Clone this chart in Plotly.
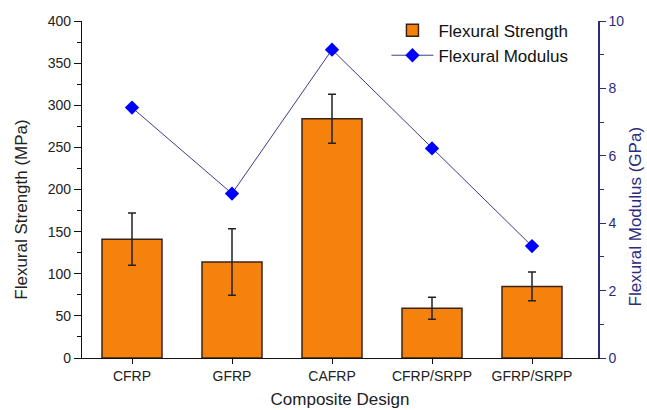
import plotly.graph_objects as go

categories = ["CFRP", "GFRP", "CAFRP", "CFRP/SRPP", "GFRP/SRPP"]
strength = [141, 114, 284, 59, 85]
strength_err = [31, 39.5, 29, 13, 17]
modulus = [7.43, 4.88, 9.15, 6.22, 3.32]

FONT = "Liberation Sans, Arial, sans-serif"
NAVY = "#2b2b7f"

fig = go.Figure()
fig.add_trace(go.Bar(
    x=categories, y=strength, name="Flexural Strength",
    width=0.6,
    marker=dict(color="#F5820C", line=dict(color="#3a2418", width=1.5)),
    error_y=dict(type="data", array=strength_err, visible=True,
                 color="#222222", thickness=1.5, width=4),
))
fig.add_trace(go.Scatter(
    x=categories, y=modulus, name="Flexural Modulus", yaxis="y2",
    mode="lines+markers",
    line=dict(color="#3c3c8c", width=1),
    marker=dict(symbol="diamond", size=11, color="#0000FF"),
))

fig.update_layout(
    width=647, height=410,
    margin=dict(l=82, r=49, t=21, b=52, autoexpand=False),
    paper_bgcolor="white", plot_bgcolor="white",
    font=dict(family=FONT, size=14, color="#222222"),
    showlegend=True,
    legend=dict(x=0.59, y=1.025, xanchor="left", yanchor="top",
                bgcolor="rgba(0,0,0,0)", font=dict(size=17, color="#111111"),
                itemwidth=42, tracegroupgap=0, traceorder="normal"),
    xaxis=dict(
        type="category", range=[-0.5, 4.66],
        showline=True, linecolor="#111111", linewidth=1.2,
        ticks="outside", ticklen=5, tickcolor="#111111",
        showgrid=False, zeroline=False,
        tickfont=dict(size=14, color="#222222"),
        title=dict(text="Composite Design", font=dict(size=17, color="#222222"), standoff=10),
    ),
    yaxis=dict(
        range=[0, 400], dtick=50,
        showline=True, linecolor="#111111", linewidth=1.2,
        ticks="outside", ticklen=7, tickcolor="#111111",
        minor=dict(ticks="outside", ticklen=4, dtick=25, tickcolor="#111111"),
        showgrid=False, zeroline=False,
        tickfont=dict(size=14, color="#222222"),
    ),
    yaxis2=dict(
        range=[0, 10], dtick=2, overlaying="y", side="right",
        showline=True, linecolor=NAVY, linewidth=1.5,
        ticks="outside", ticklen=6, tickcolor=NAVY,
        minor=dict(ticks="outside", ticklen=4, dtick=1, tickcolor=NAVY),
        showgrid=False, zeroline=False,
        tickfont=dict(size=14, color=NAVY),
    ),
    annotations=[
        dict(text="Flexural Strength (MPa)", textangle=-90, showarrow=False,
             xref="paper", yref="paper", x=0, y=0.44, xshift=-60,
             xanchor="center", yanchor="middle",
             font=dict(size=17, color="#222222")),
        dict(text="Flexural Modulus (GPa)", textangle=-90, showarrow=False,
             xref="paper", yref="paper", x=1, y=0.42, xshift=37,
             xanchor="center", yanchor="middle",
             font=dict(size=17, color=NAVY)),
    ],
)

fig.write_html("out.html")
